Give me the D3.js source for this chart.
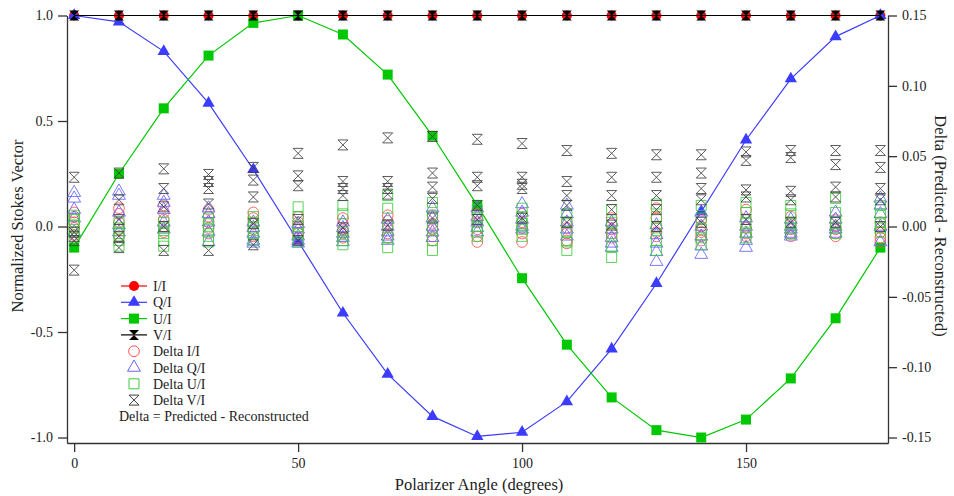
<html>
<head>
<meta charset="utf-8">
<script src="https://d3js.org/d3.v7.min.js"></script>
<style>
  body { margin: 0; background: #fff; }
  svg { font-family: "Liberation Serif", "DejaVu Serif", serif; }
  .axis path, .axis line { stroke: #333; stroke-width: 1.3px; }
  .axis text { font-size: 14px; fill: #222; font-family: "Liberation Serif", serif; }
  .title { font-size: 16.5px; fill: #222; }
  .legend text { font-size: 14px; fill: #222; }
</style>
</head>
<body>
<div id="chart"></div>
<script>
// polarizer angles (degrees)
const angles = [0, 10, 20, 30, 40, 50, 60, 70, 80, 90, 100, 110, 120, 130, 140, 150, 160, 170, 180];

// normalized Stokes vector (left axis)
const iI = [1, 1, 1, 1, 1, 1, 1, 1, 1, 1, 1, 1, 1, 1, 1, 1, 1, 1, 1];
const qI = [1.0, 0.97, 0.83, 0.585, 0.27, -0.07, -0.41, -0.70, -0.90, -0.995, -0.975, -0.83, -0.58, -0.27, 0.07, 0.41, 0.70, 0.90, 1.0];
const uI = [-0.10, 0.25, 0.56, 0.81, 0.965, 1.0, 0.91, 0.72, 0.43, 0.10, -0.245, -0.56, -0.81, -0.965, -1.0, -0.915, -0.72, -0.435, -0.10];
const vI = [1, 1, 1, 1, 1, 1, 1, 1, 1, 1, 1, 1, 1, 1, 1, 1, 1, 1, 1];

// deltas, predicted - reconstructed (right axis), several runs per angle
const deltaI = [
  [0.010, 0.007, 0.003, -0.001, -0.006], [0.013, 0.009, 0.003, -0.002, -0.007], [0.015, 0.010, 0.005, 0.000, -0.004],
  [0.012, 0.007, 0.003, -0.001, -0.005], [0.010, 0.006, 0.002, -0.002, -0.007], [0.007, 0.003, -0.001, -0.005, -0.008],
  [0.006, 0.002, -0.002, -0.005, -0.008], [0.008, 0.004, 0.000, -0.005, -0.008], [0.008, 0.002, -0.002, -0.007, -0.010],
  [0.009, 0.003, -0.002, -0.007, -0.011], [0.009, 0.003, -0.001, -0.005, -0.011], [0.003, -0.001, -0.005, -0.010, -0.012],
  [0.006, 0.002, -0.002, -0.005, -0.008], [0.013, 0.006, 0.000, -0.004, -0.007], [0.005, 0.000, -0.004, -0.007, -0.010],
  [0.012, 0.005, -0.001, -0.005, -0.007], [0.007, 0.002, -0.002, -0.005, -0.007], [0.005, 0.000, -0.002, -0.005, -0.007],
  [0.003, -0.001, -0.004, -0.008, -0.011]
];
const deltaQ = [
  [0.024, 0.020, 0.012, 0.006, -0.004], [0.025, 0.022, 0.010, 0.001, -0.004], [0.022, 0.017, 0.012, 0.003, -0.002],
  [0.013, 0.009, 0.003, -0.004, -0.011], [0.003, -0.001, -0.005, -0.010, -0.012], [0.002, -0.002, -0.007, -0.010, -0.012],
  [0.003, -0.001, -0.005, -0.008, -0.011], [0.005, 0.000, -0.004, -0.007, -0.010], [0.013, 0.006, 0.000, -0.004, -0.008],
  [0.013, 0.007, 0.003, -0.001, -0.004], [0.016, 0.010, 0.005, 0.000, -0.002], [0.015, 0.009, 0.003, -0.002, -0.007],
  [0.003, -0.002, -0.008, -0.012, -0.015], [0.001, -0.006, -0.012, -0.018, -0.025], [0.010, 0.000, -0.007, -0.014, -0.020],
  [0.006, 0.000, -0.005, -0.010, -0.015], [0.005, 0.000, -0.002, -0.005, -0.007], [0.010, 0.005, 0.000, -0.002, -0.005],
  [0.020, 0.015, 0.009, 0.000, -0.011]
];
const deltaU = [
  [0.008, 0.005, 0.001, -0.004, -0.008], [0.003, -0.001, -0.005, -0.010, -0.014], [0.003, -0.001, -0.005, -0.010, -0.014],
  [0.006, 0.002, -0.002, -0.007, -0.011], [0.007, 0.003, -0.001, -0.005, -0.010], [0.014, 0.007, 0.000, -0.005, -0.011],
  [0.015, 0.009, -0.004, -0.010, -0.013], [0.022, 0.013, 0.001, -0.008, -0.015], [0.017, 0.008, -0.001, -0.010, -0.017],
  [0.012, 0.006, 0.000, -0.004, -0.007], [0.013, 0.007, 0.002, -0.002, -0.007], [0.009, 0.003, -0.004, -0.011, -0.017],
  [0.012, 0.003, -0.005, -0.014, -0.022], [0.016, 0.007, -0.001, -0.010, -0.017], [0.015, 0.006, -0.002, -0.008, -0.013],
  [0.017, 0.010, 0.002, -0.004, -0.008], [0.015, 0.009, 0.003, -0.001, -0.005], [0.020, 0.010, 0.003, -0.001, -0.005],
  [0.015, 0.009, 0.003, -0.001, -0.004]
];
const deltaV = [
  [0.035, -0.004, -0.007, -0.010, -0.031], [0.038, 0.019, 0.005, -0.007, -0.015], [0.041, 0.027, 0.014, 0.000, -0.017],
  [0.037, 0.032, 0.027, 0.016, -0.017], [0.042, 0.033, 0.021, 0.002, -0.013], [0.052, 0.036, 0.029, 0.005, -0.010],
  [0.058, 0.032, 0.027, 0.022, -0.001], [0.063, 0.032, 0.027, 0.023, 0.001], [0.064, 0.038, 0.028, 0.020, 0.006],
  [0.062, 0.035, 0.029, 0.015, 0.005], [0.059, 0.035, 0.030, 0.027, 0.006], [0.054, 0.032, 0.022, 0.015, 0.003],
  [0.052, 0.035, 0.022, 0.012, 0.001], [0.051, 0.035, 0.022, 0.012, 0.000], [0.051, 0.038, 0.027, 0.019, 0.003],
  [0.053, 0.047, 0.026, 0.021, 0.005], [0.054, 0.049, 0.025, 0.019, 0.003], [0.054, 0.044, 0.028, 0.021, 0.003],
  [0.054, 0.042, 0.027, 0.019, 0.000]
];

const xTicks = [0, 50, 100, 150];
const yTicks = [-1.0, -0.5, 0.0, 0.5, 1.0];
const y2Ticks = [-0.15, -0.10, -0.05, 0.00, 0.05, 0.10, 0.15];

var width = 954, height = 496;
var plotLeft = 67, plotRight = 888, plotTop = 15.5, plotBottom = 443;

var x = d3.scaleLinear().domain([-1.6, 181.7]).range([plotLeft, plotRight]);
var y = d3.scaleLinear().domain([-1.026, 1.0]).range([plotBottom, plotTop]);
var y2 = d3.scaleLinear().domain([-0.15 * 1.026, 0.15]).range([plotBottom, plotTop]);

// plain hyphen for negatives, like the original
function fmt(spec) {
  var f = d3.format(spec);
  return d => f(d).replace("\u2212", "-");
}

const svg = d3.select("#chart").append("svg")
    .attr("width", width)
    .attr("height", height);

// axes
svg.append("g").attr("class", "axis")
    .attr("transform", "translate(0," + plotBottom + ")")
    .call(d3.axisBottom(x).tickValues(xTicks).tickSize(9).tickSizeOuter(0).tickPadding(6).tickFormat(fmt("d")));
svg.append("g").attr("class", "axis")
    .attr("transform", "translate(" + plotLeft + ",0)")
    .call(d3.axisLeft(y).tickValues(yTicks).tickSize(9).tickSizeOuter(0).tickPadding(5).tickFormat(fmt(".1f")));
svg.append("g").attr("class", "axis")
    .attr("transform", "translate(" + plotRight + ",0)")
    .call(d3.axisRight(y2).tickValues(y2Ticks).tickSize(9).tickSizeOuter(0).tickPadding(5).tickFormat(fmt(".2f")));

// symbols
function hourglass(s) {
  var w = s / 2;
  return "M" + (-w) + "," + (-w) + "L" + w + "," + (-w) + "L" + (-w) + "," + w + "L" + w + "," + w + "Z";
}
const shapes = {
  circle: d3.symbol().type(d3.symbolCircle).size(80)(),
  triangle: d3.symbol().type(d3.symbolTriangle).size(66)(),
  square: d3.symbol().type(d3.symbolSquare).size(100)(),
  hourglass: hourglass(10),
  dcircle: d3.symbol().type(d3.symbolCircle).size(90)(),
  dtriangle: d3.symbol().type(d3.symbolTriangle).size(72)(),
  dsquare: d3.symbol().type(d3.symbolSquare).size(100)(),
  dhourglass: hourglass(10)
};

const mainSeries = [
  { name: "I/I", values: iI, color: "#ff0000", shape: "circle" },
  { name: "Q/I", values: qI, color: "#3c3cff", shape: "triangle" },
  { name: "U/I", values: uI, color: "#00c800", shape: "square" },
  { name: "V/I", values: vI, color: "#000000", shape: "hourglass" }
];
const deltaSeries = [
  { name: "Delta I/I", values: deltaI, color: "#ff5050", shape: "dcircle" },
  { name: "Delta Q/I", values: deltaQ, color: "#6464ff", shape: "dtriangle" },
  { name: "Delta U/I", values: deltaU, color: "#3ccc3c", shape: "dsquare" },
  { name: "Delta V/I", values: deltaV, color: "#404040", shape: "dhourglass" }
];

var line = d3.line().x(d => x(d[0])).y(d => y(d[1]));

mainSeries.forEach(s => {
  var pts = angles.map((a, i) => [a, s.values[i]]);
  svg.append("path")
      .attr("d", line(pts))
      .attr("fill", "none")
      .attr("stroke", s.color)
      .attr("stroke-width", 1.2);
  svg.selectAll(null).data(pts).enter().append("path")
      .attr("d", shapes[s.shape])
      .attr("transform", d => "translate(" + x(d[0]) + "," + y(d[1]) + ")")
      .attr("fill", s.color);
});

// delta markers (hollow)
deltaSeries.forEach(s => {
  var pts = [];
  angles.forEach((a, i) => s.values[i].forEach(v => pts.push([a, v])));
  svg.selectAll(null).data(pts).enter().append("path")
      .attr("d", shapes[s.shape])
      .attr("transform", d => "translate(" + x(d[0]) + "," + y2(d[1]) + ")")
      .attr("fill", "none")
      .attr("stroke", s.color)
      .attr("stroke-width", 1)
      .attr("opacity", 0.85);
});

// axis titles
svg.append("text").attr("class", "title")
    .attr("text-anchor", "middle")
    .attr("x", 479).attr("y", 490)
    .text("Polarizer Angle (degrees)");
svg.append("text").attr("class", "title")
    .attr("text-anchor", "middle")
    .attr("transform", "translate(23,226) rotate(-90)")
    .text("Normalized Stokes Vector");
svg.append("text").attr("class", "title")
    .attr("text-anchor", "middle")
    .attr("transform", "translate(935,226) rotate(90)")
    .text("Delta (Predicted - Reconstructed)");

// legend
const legend = svg.append("g").attr("class", "legend");
var rowY = 286, rowH = 16.3;
mainSeries.forEach((s, i) => {
  var yy = rowY + i * rowH;
  legend.append("line")
      .attr("x1", 121).attr("x2", 147).attr("y1", yy).attr("y2", yy)
      .attr("stroke", s.color).attr("stroke-width", 1.2);
  legend.append("path")
      .attr("d", shapes[s.shape])
      .attr("transform", "translate(134," + yy + ")")
      .attr("fill", s.color);
  legend.append("text").attr("x", 153).attr("y", yy + 5).text(s.name);
});
deltaSeries.forEach((s, i) => {
  var yy = rowY + (i + 4) * rowH;
  legend.append("path")
      .attr("d", shapes[s.shape])
      .attr("transform", "translate(134," + yy + ")")
      .attr("fill", "none")
      .attr("stroke", s.color);
  legend.append("text").attr("x", 153).attr("y", yy + 5).text(s.name);
});
legend.append("text").attr("x", 119).attr("y", rowY + 8 * rowH + 5)
    .text("Delta = Predicted - Reconstructed");
</script>
</body>
</html>
